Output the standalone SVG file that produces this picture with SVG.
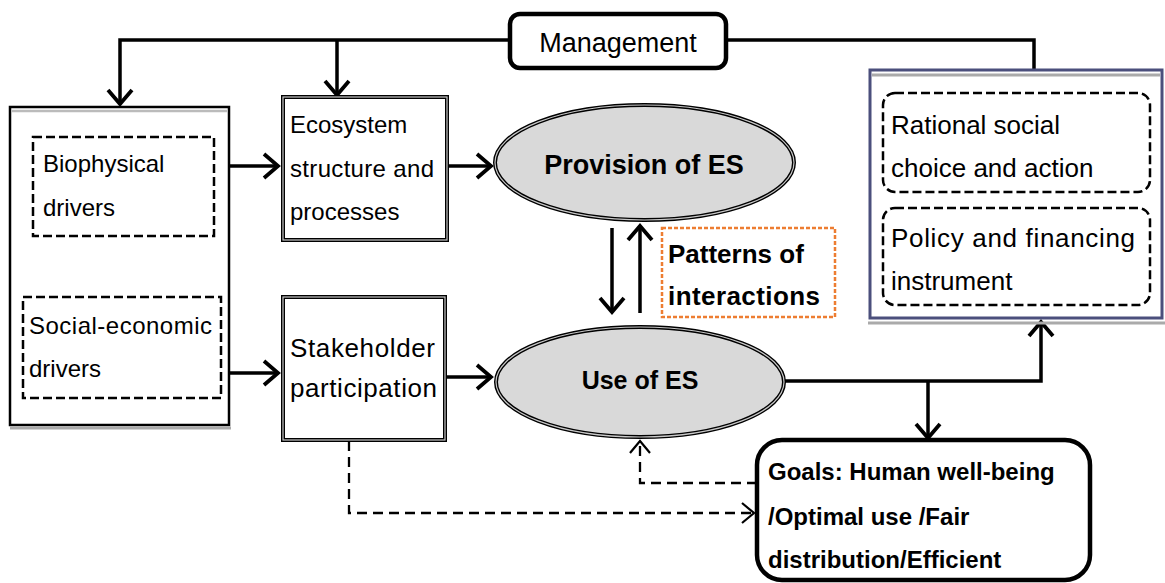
<svg xmlns="http://www.w3.org/2000/svg" width="1165" height="583" viewBox="0 0 1165 583">
<defs>
<marker id="ah" markerUnits="userSpaceOnUse" markerWidth="32" markerHeight="32" viewBox="-17 -16 22 32" refX="0" refY="0" orient="auto">
<path d="M-14,-12 L0,0 L-14,12" fill="none" stroke="#000" stroke-width="3.8" stroke-linejoin="miter"/>
</marker>
<marker id="ahs" markerUnits="userSpaceOnUse" markerWidth="30" markerHeight="30" viewBox="-16 -15 20 30" refX="0" refY="0" orient="auto">
<path d="M-12,-10 L0,0 L-12,10" fill="none" stroke="#000" stroke-width="2.2"/>
</marker>
</defs>
<style>
.t{font-family:"Liberation Sans",Arial,sans-serif;fill:#000}
.n{font-size:24px}
.r{font-size:26px}
.b{font-weight:bold}
.ln{fill:none;stroke:#000;stroke-width:3.5}
.dl{fill:none;stroke:#000;stroke-width:2.3;stroke-dasharray:10,6}
.dbx{fill:none;stroke:#000;stroke-width:2.5;stroke-dasharray:9,4}
.dbl-o{fill:#fff;stroke:#000;stroke-width:4}
.dbl-i{fill:none;stroke:#c8c8c8;stroke-width:1.2}
.ell-o{fill:#d9d9d9;stroke:#000;stroke-width:4}
</style>
<rect width="1165" height="583" fill="#fff"/>

<g id="connectors">
<path class="ln" d="M510,40 H120 V104" marker-end="url(#ah)"/>
<path class="ln" d="M337,40 V95" marker-end="url(#ah)"/>
<path class="ln" d="M727,40 H1034 V70"/>
<path class="ln" d="M229,166 H278" marker-end="url(#ah)"/>
<path class="ln" d="M229,373 H278" marker-end="url(#ah)"/>
<path class="ln" d="M447,166 H491" marker-end="url(#ah)"/>
<path class="ln" d="M445,377 H491" marker-end="url(#ah)"/>
<path class="ln" d="M612,228 V312" marker-end="url(#ah)"/>
<path class="ln" d="M640,313 V226" marker-end="url(#ah)"/>
<path class="ln" d="M784,381 H1041 V322" marker-end="url(#ah)"/>
<path class="ln" d="M928,381 V438" marker-end="url(#ah)"/>
<path class="dl" d="M349,441 V513 H754" marker-end="url(#ahs)"/>
<path class="dl" d="M757,483 H640 V441" marker-end="url(#ahs)"/>
</g>

<g id="management">
<rect x="510" y="14" width="216" height="54" rx="10" fill="#fff" stroke="#000" stroke-width="4.5"/>
<text class="t" x="618" y="52" font-size="27" text-anchor="middle">Management</text>
</g>

<g id="drivers">
<rect x="10" y="107" width="219" height="318" fill="#fff" stroke="#000" stroke-width="2.5"/>
<line x1="12" y1="111" x2="227" y2="111" stroke="#bbb" stroke-width="2.5"/>
<line x1="10" y1="428" x2="231" y2="428" stroke="#aaa" stroke-width="3"/>
<g id="biophysical">
<rect class="dbx" x="33" y="137" width="181" height="99"/>
<text class="t n" x="43" y="172">Biophysical</text>
<text class="t n" x="43" y="216">drivers</text>
</g>
<g id="socioeconomic">
<rect class="dbx" x="23" y="297" width="198" height="101"/>
<text class="t n" x="29" y="334" textLength="183">Social-economic</text>
<text class="t n" x="29" y="377">drivers</text>
</g>
</g>

<g id="ecosystem">
<rect class="dbl-o" x="283" y="97" width="164" height="143"/>
<rect class="dbl-i" x="283" y="97" width="164" height="143"/>
<text class="t n" x="290" y="133">Ecosystem</text>
<text class="t n" x="290" y="177" textLength="144">structure and</text>
<text class="t n" x="290" y="220">processes</text>
</g>

<g id="stakeholder">
<rect class="dbl-o" x="283" y="297" width="162" height="143"/>
<rect class="dbl-i" x="283" y="297" width="162" height="143"/>
<text class="t r" x="290" y="357" textLength="145">Stakeholder</text>
<text class="t r" x="290" y="397" textLength="147">participation</text>
</g>

<g id="provision">
<ellipse class="ell-o" cx="644.5" cy="162.5" rx="149.5" ry="57.5"/>
<ellipse class="dbl-i" cx="644.5" cy="162.5" rx="149.5" ry="57.5"/>
<text class="t b" x="644" y="174" font-size="27" text-anchor="middle">Provision of ES</text>
</g>

<g id="use">
<ellipse class="ell-o" cx="640" cy="382" rx="144" ry="55"/>
<ellipse class="dbl-i" cx="640" cy="382" rx="144" ry="55"/>
<text class="t b" x="640" y="389" font-size="25" text-anchor="middle">Use of ES</text>
</g>

<g id="patterns">
<rect x="662" y="228" width="173" height="89" fill="#fff" stroke="#ED7D31" stroke-width="2.5" stroke-dasharray="4,2"/>
<text class="t b" x="668" y="263" font-size="26">Patterns of</text>
<text class="t b" x="668" y="305" font-size="26" textLength="152">interactions</text>
</g>

<g id="institutions">
<rect x="870" y="70" width="292" height="248" fill="#fff" stroke="#4b4f7c" stroke-width="3"/>
<line x1="872" y1="75" x2="1160" y2="75" stroke="#aaa" stroke-width="3"/>
<line x1="868" y1="323" x2="1165" y2="323" stroke="#aaa" stroke-width="3"/>
<g id="rational">
<rect class="dbx" x="883" y="93" width="267" height="99" rx="12"/>
<text class="t r" x="891" y="134">Rational social</text>
<text class="t r" x="891" y="177">choice and action</text>
</g>
<g id="policy">
<rect class="dbx" x="883" y="208" width="267" height="97" rx="12"/>
<text class="t r" x="891" y="247" textLength="244">Policy and financing</text>
<text class="t r" x="891" y="290">instrument</text>
</g>
</g>

<g id="goals">
<rect x="757" y="440" width="333" height="140" rx="25" fill="#fff" stroke="#000" stroke-width="4.5"/>
<text class="t b" x="768" y="480" font-size="24">Goals: Human well-being</text>
<text class="t b" x="768" y="525" font-size="24">/Optimal use /Fair</text>
<text class="t b" x="768" y="568" font-size="24">distribution/Efficient</text>
</g>
</svg>
